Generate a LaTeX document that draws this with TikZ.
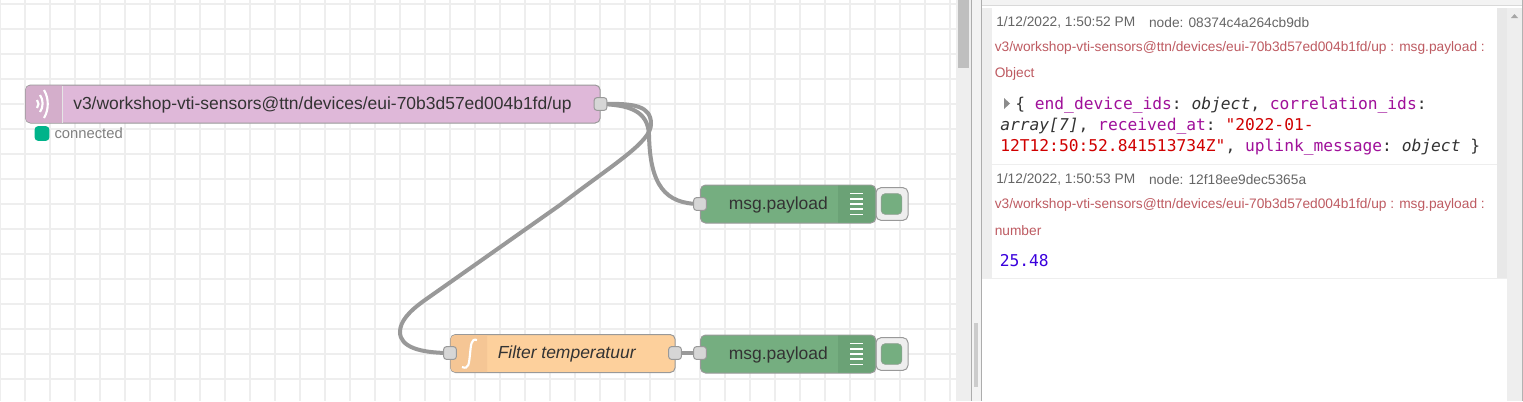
\documentclass[tikz,border=0pt]{standalone}
\usepackage{fontspec}
\setmainfont{Liberation Sans}
\setmonofont{DejaVu Sans Mono}
\usetikzlibrary{positioning,backgrounds}
\definecolor{gridcol}{HTML}{EEEEEE}
\definecolor{panelcol}{HTML}{F3F3F3}
\definecolor{edgecol}{HTML}{999999}
\definecolor{mqttcol}{HTML}{DFB8D9}
\definecolor{mqttdark}{HTML}{D4AECB}
\definecolor{funccol}{HTML}{FDD09C}
\definecolor{funcdark}{HTML}{F5C695}
\definecolor{debugcol}{HTML}{75AE80}
\definecolor{debugdark}{HTML}{6BA276}
\definecolor{textcol}{HTML}{333333}
\definecolor{metacol}{HTML}{666666}
\definecolor{topiccol}{HTML}{BE5B62}
\definecolor{keycol}{HTML}{A0109A}
\definecolor{strcol}{HTML}{D00000}
\definecolor{numcol}{HTML}{3A00DD}
\definecolor{statuscol}{HTML}{00B38A}
\tikzset{
  flownode/.style={draw=edgecol,line width=.75pt,rounded corners=3.75pt,inner sep=0pt,minimum height=28.5pt,anchor=west},
  nodelabel/.style={anchor=west,inner sep=0pt,text=textcol,font=\fontsize{13.1}{15}\selectfont},
  port/.style={draw=edgecol,fill=gridcol!90!black,line width=.75pt,rounded corners=2pt,inner sep=0pt,minimum width=9.5pt,minimum height=9.5pt},
  wire/.style={draw=edgecol,line width=3pt},
  meta/.style={anchor=west,inner sep=0pt,text=metacol,font=\fontsize{10.3}{12}\selectfont},
  topic/.style={anchor=west,inner sep=0pt,text=topiccol,font=\fontsize{10.3}{12}\selectfont},
  mono/.style={anchor=west,inner sep=0pt,text=textcol,font=\ttfamily\fontsize{12.2}{14}\selectfont},
  switchbox/.style={draw=edgecol,fill=gridcol,line width=.75pt,rounded corners=3.75pt,inner sep=0pt,minimum width=24pt,minimum height=24.5pt,anchor=west},
  switchbtn/.style={fill=debugcol,draw=edgecol!70!debugcol,line width=.5pt,rounded corners=3pt,inner sep=0pt,minimum width=15.5pt,minimum height=15.5pt},
  statusdot/.style={fill=statuscol,rounded corners=2.5pt,inner sep=0pt,minimum width=11pt,minimum height=11pt},
  icon/.style={white,line width=1.6pt},
}
\newcommand{\km}[1]{\textcolor{keycol}{#1}}
\newcommand{\debuglines}[1]{\foreach \dy in {-10.5,-5.25,0,5.25,10.5} \draw [white,line width=1.2pt] (850,#1+\dy) -- (863,#1+\dy);}
\begin{document}
\begin{tikzpicture}[x=.75pt,y=-.75pt]
\useasboundingbox (0,0) rectangle (1523,401);
\begin{scope}[on background layer]
\fill [white] (0,0) rectangle (1523,401);
% workspace grid
\foreach \gx in {0,25,...,950} \draw [gridcol,line width=1.5pt] (\gx,0) -- (\gx,401);
\foreach \gy in {4,29,...,404} \draw [gridcol,line width=1.5pt] (0,\gy) -- (956,\gy);
\end{scope}

% scrollbars and panel
\fill [gridcol] (956,0) rectangle (971,401);
\fill [panelcol] (972,0) rectangle (981,401);
\fill [black!25] (958,0) rectangle (969,68);
\fill [black!20] (974,323) rectangle (978,387);
\draw [edgecol!80] (971.5,0) -- (971.5,401);
\draw [edgecol!80] (981.5,0) -- (981.5,401);
\fill [panelcol] (982,0) rectangle (1523,5);
\draw [black!15] (982,5.5) -- (1523,5.5);
\fill [gridcol] (982,8) rectangle (992,278);
\fill [black!9] (1497,8) rectangle (1507,278);
\fill [gridcol] (1507,8) rectangle (1522,401);
\fill [black!35] (1514.5,14) -- (1511,18) -- (1518,18) -- cycle;
\draw [black!30] (1522.5,0) -- (1522.5,401);
\draw [gridcol] (982,164.5) -- (1497,164.5);
\draw [gridcol] (982,278.5) -- (1507,278.5);

% debug messages
\node [meta] (time1) at (996,22.5) {1/12/2022, 1:50:52 PM};
\node [meta,right=10pt of time1] (id1) {node: 08374c4a264cb9db};
\node [topic] (topic1) at (994.5,48) {v3/workshop-vti-sensors@ttn/devices/eui-70b3d57ed004b1fd/up : msg.payload :};
\node [topic] (type1) at (994.5,73.5) {Object};
\fill [black!45] (1004,98) -- (1010,103.5) -- (1004,109) -- cycle;
\node [mono] (line1) at (1015,105.5) {\{ \km{end\_device\_ids}: \textit{object}, \km{correlation\_ids}:};
\node [mono] (line2) at (1000,126.5) {\textit{array[7]}, \km{received\_at}: \textcolor{strcol}{"2022-01-}};
\node [mono] (line3) at (1000,147.5) {\textcolor{strcol}{12T12:50:52.841513734Z"}, \km{uplink\_message}: \textit{object} \}};
\node [meta] (time2) at (996,179.5) {1/12/2022, 1:50:53 PM};
\node [meta,right=10pt of time2] (id2) {node: 12f18ee9dec5365a};
\node [topic] (topic2) at (994.5,205) {v3/workshop-vti-sensors@ttn/devices/eui-70b3d57ed004b1fd/up : msg.payload :};
\node [topic] (type2) at (994.5,230.5) {number};
\node [mono,text=numcol] (value2) at (999.5,261) {25.48};

% mqtt node
\node [flownode,fill=mqttcol,minimum width=431pt] (mqtt) at (25,104) {};
\fill [mqttdark,rounded corners=3.5pt] (62,85.5) -- (25.5,85.5) -- (25.5,122.5) [sharp corners] -- (62,122.5) -- cycle;
\draw [black!10] (62,85.5) -- (62,122.5);
\draw [icon] (37,100) .. controls (39,102.5) and (39,105.5) .. (37,108);
\draw [icon] (40,95) .. controls (43.5,100) and (43.5,107) .. (40,112);
\draw [icon] (44,90) .. controls (49,98) and (49,110) .. (44,118);
\node [nodelabel] (mqttlabel) at (73,104.5) {v3/workshop-vti-sensors@ttn/devices/eui-70b3d57ed004b1fd/up};
\node [port] (mqttport) at (600.5,104) {};
\node [statusdot] (status) at (42,133.5) {};
\node [inner sep=0pt,text=black!50,font=\fontsize{11.1}{13}\selectfont,right=3.5pt of status] (statuslabel) {connected};

% first debug node
\node [switchbox] (switchone) at (875.5,204) {};
\node [switchbtn] (btnone) at (891.5,204) {};
\node [flownode,fill=debugcol,minimum width=131.5pt] (debugone) at (700,204) {};
\fill [debugdark,rounded corners=3.5pt] (838,185.5) -- (874.8,185.5) -- (874.8,222.5) [sharp corners] -- (838,222.5) -- cycle;
\node [nodelabel] (debugonelabel) at (728.5,204.5) {msg.payload};
\debuglines{204}
\node [port] (debugoneport) at (700,204) {};

% function node
\node [flownode,fill=funccol,minimum width=168.5pt] (func) at (450,353.5) {};
\fill [funcdark,rounded corners=3.5pt] (487,335) -- (450.5,335) -- (450.5,372) [sharp corners] -- (487,372) -- cycle;
\node [nodelabel,font=\fontsize{13.1}{15}\selectfont\itshape] (funclabel) at (497.5,354) {Filter temperatuur};
\draw [icon] (477,340) .. controls (471,338) and (471,345) .. (470,354) .. controls (469,363) and (469,370) .. (462,367);
\node [port] (funcinport) at (450,353) {};
\node [port] (funcoutport) at (675,353) {};

% second debug node
\node [switchbox] (switchtwo) at (875.5,354) {};
\node [switchbtn] (btntwo) at (891.5,354) {};
\node [flownode,fill=debugcol,minimum width=131.5pt] (debugtwo) at (700,354) {};
\fill [debugdark,rounded corners=3.5pt] (838,335.5) -- (874.8,335.5) -- (874.8,372.5) [sharp corners] -- (838,372.5) -- cycle;
\node [nodelabel] (debugtwolabel) at (728.5,354.5) {msg.payload};
\debuglines{354}
\node [port] (debugtwoport) at (700,353) {};

% wires, under the nodes
\begin{scope}[on background layer]
\draw [wire] (mqttport.center) .. controls (628,105) and (648,110) .. (649,135) .. controls (650,185) and (665,204) .. (debugoneport.center);
\draw [wire] (mqttport.center) .. controls (635,103) and (651,106) .. (651,124) .. controls (651,142) and (615,163) .. (560,205) -- (425,300) .. controls (408,312) and (400,322) .. (400,332) .. controls (400,347) and (420,353) .. (funcinport.center);
\draw [wire] (funcoutport) -- (debugtwoport);
\end{scope}
\end{tikzpicture}
\end{document}
